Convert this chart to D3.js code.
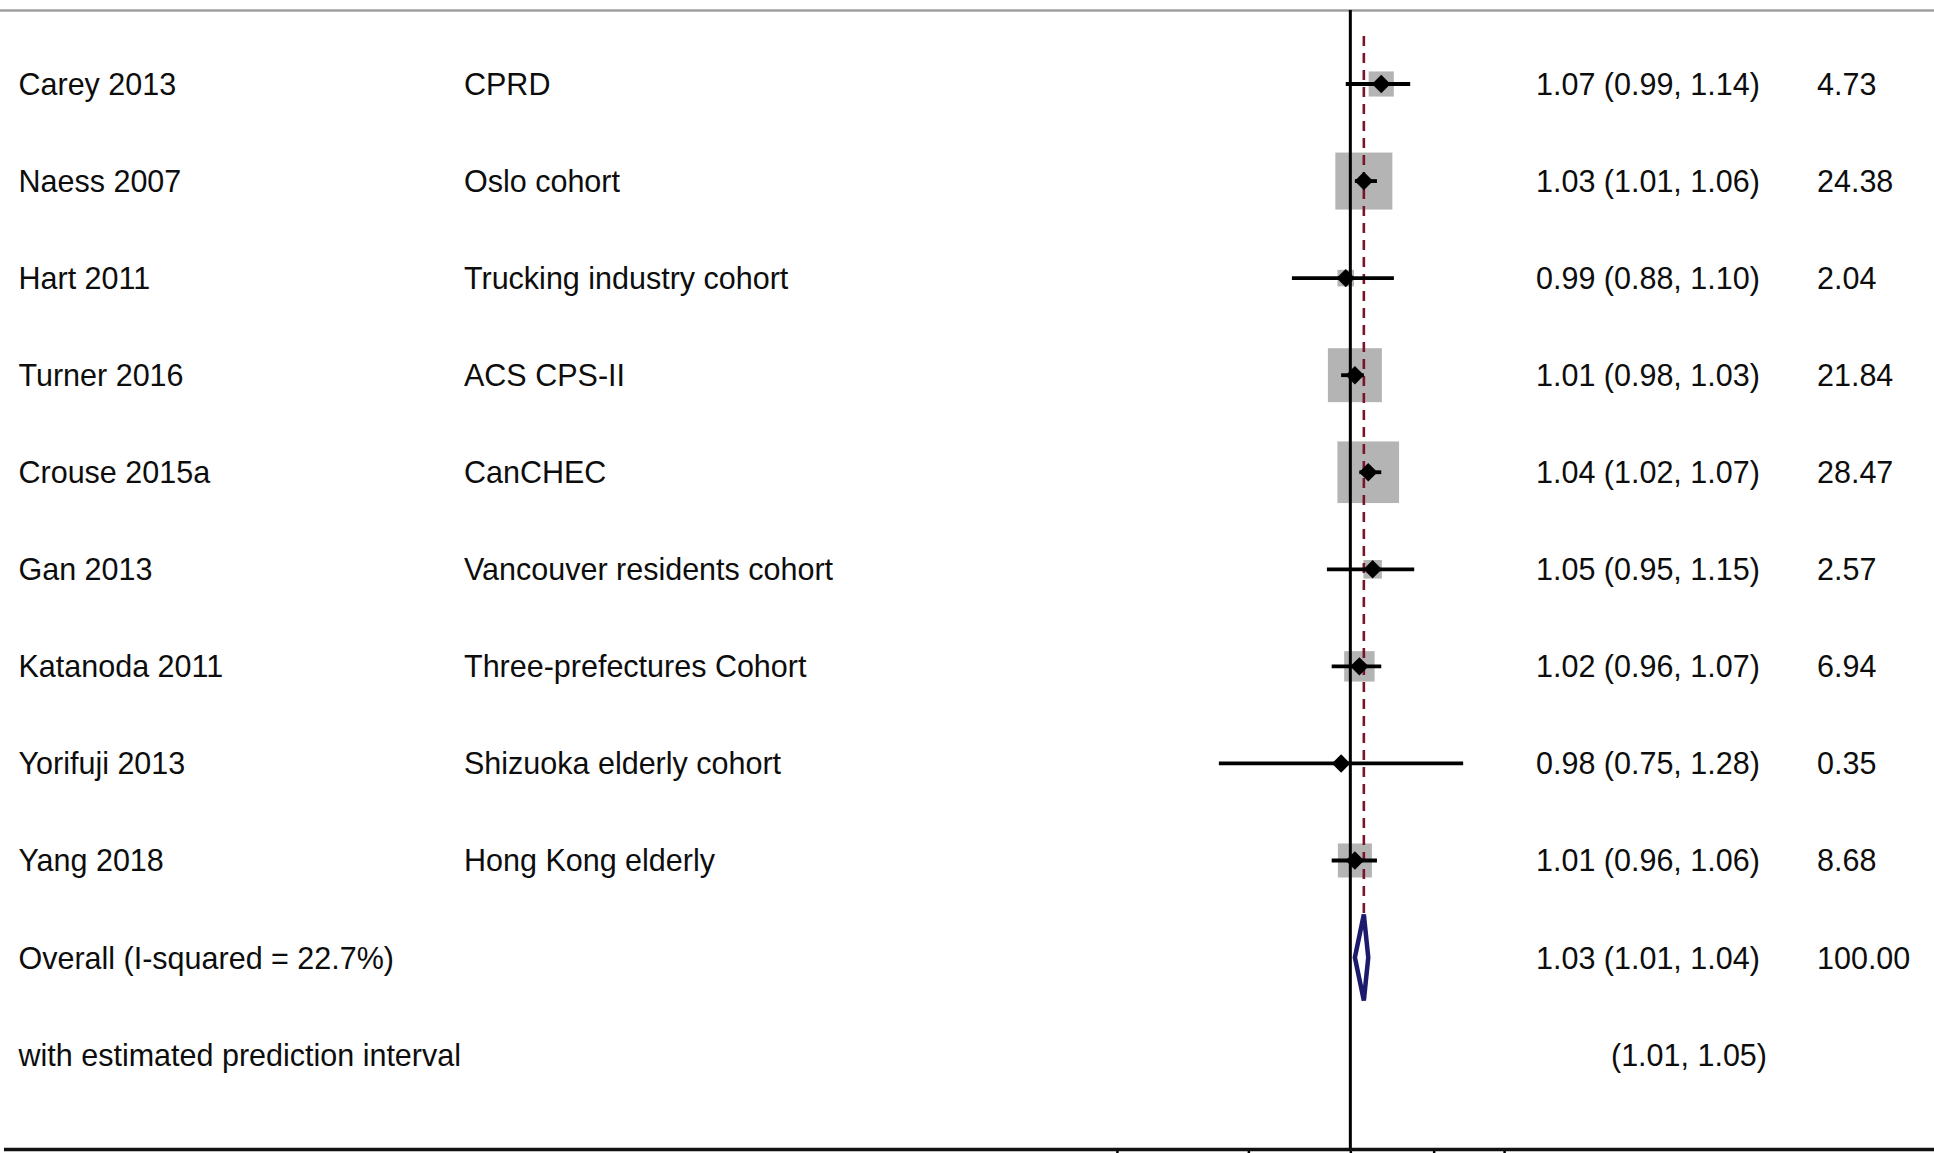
<!DOCTYPE html>
<html>
<head>
<meta charset="utf-8">
<script src="https://cdn.jsdelivr.net/npm/d3@7"></script>
<style>
  html, body { margin: 0; padding: 0; background: #fff; }
  svg { display: block; }
  text { font-family: "Liberation Sans", Arial, sans-serif; font-size: 30.5px; fill: #0d0d0d; }
</style>
</head>
<body>
<script>
// Study rows of the meta-analysis
const studies = ["Carey 2013", "Naess 2007", "Hart 2011", "Turner 2016", "Crouse 2015a",
                 "Gan 2013", "Katanoda 2011", "Yorifuji 2013", "Yang 2018"];
const cohorts = ["CPRD", "Oslo cohort", "Trucking industry cohort", "ACS CPS-II", "CanCHEC",
                 "Vancouver residents cohort", "Three-prefectures Cohort", "Shizuoka elderly cohort",
                 "Hong Kong elderly"];
const effect = [1.07, 1.03, 0.99, 1.01, 1.04, 1.05, 1.02, 0.98, 1.01];
const lower  = [0.99, 1.01, 0.88, 0.98, 1.02, 0.95, 0.96, 0.75, 0.96];
const upper  = [1.14, 1.06, 1.10, 1.03, 1.07, 1.15, 1.07, 1.28, 1.06];
const weight = [4.73, 24.38, 2.04, 21.84, 28.47, 2.57, 6.94, 0.35, 8.68];

// Pooled estimate and prediction interval
const overallEffect = 1.03, overallLower = 1.01, overallUpper = 1.04, overallWeight = 100.00;
const iSquared = 22.7;
const predLower = 1.01, predUpper = 1.05;

// Axis ticks
const tickValues = [0.6, 0.8, 1, 1.2, 1.4];

const W = 1934, H = 1153;
const svg = d3.select("body").append("svg").attr("width", W).attr("height", H);

const x = d3.scaleLog().domain([0.6, 1.4]).range([1116.9, 1504.1]);
const y = d3.scaleLinear().domain([0, 10]).range([84, 1054.6]);
const boxSide = d3.scaleSqrt().domain([0, 1]).range([0, 11.55]);
const f2 = d3.format(".2f");

const colStudy = 18.5, colCohort = 464, colES = 1536, colWeight = 1817;

// Frame line along the top
svg.append("line").attr("x1", 0).attr("x2", W).attr("y1", 10.5).attr("y2", 10.5)
  .attr("stroke", "#a0a0a0").attr("stroke-width", 2.5);

const rows = studies.map((s, i) => ({ s, c: cohorts[i], es: effect[i], lo: lower[i], hi: upper[i], w: weight[i], i }));

// Weight boxes
svg.append("g").selectAll("rect").data(rows).join("rect")
  .attr("x", d => x(d.es) - boxSide(d.w) / 2)
  .attr("y", d => y(d.i) - boxSide(d.w) / 2)
  .attr("width", d => boxSide(d.w))
  .attr("height", d => boxSide(d.w))
  .attr("fill", "#b4b4b4");

// Null line at 1
svg.append("line").attr("x1", x(1)).attr("x2", x(1)).attr("y1", 10).attr("y2", 1150)
  .attr("stroke", "#000").attr("stroke-width", 3);

// Overall effect reference line
const diamondHalf = 43;
svg.append("line").attr("x1", x(overallEffect)).attr("x2", x(overallEffect))
  .attr("y1", 36).attr("y2", y(9) - diamondHalf)
  .attr("stroke", "#7a1428").attr("stroke-width", 2.6).attr("stroke-dasharray", "10,7");

// Confidence intervals
svg.append("g").selectAll("line").data(rows).join("line")
  .attr("x1", d => x(d.lo)).attr("x2", d => x(d.hi))
  .attr("y1", d => y(d.i)).attr("y2", d => y(d.i))
  .attr("stroke", "#000").attr("stroke-width", 3.8);

// Point estimates
const pt = d3.symbol().type(d3.symbolSquare).size(170);
svg.append("g").selectAll("path").data(rows).join("path")
  .attr("d", pt)
  .attr("transform", d => `translate(${x(d.es)},${y(d.i)}) rotate(45)`)
  .attr("fill", "#000");

// Pooled diamond
const yo = y(9);
svg.append("path")
  .attr("d", d3.line()([
    [x(overallLower), yo], [x(overallEffect), yo - diamondHalf],
    [x(overallUpper), yo], [x(overallEffect), yo + diamondHalf]
  ]) + "Z")
  .attr("fill", "none").attr("stroke", "#1b1a6c").attr("stroke-width", 4.5)
  .attr("stroke-linejoin", "miter");

// Bottom axis
const axis = svg.append("g").attr("transform", "translate(0,1149.5)")
  .call(d3.axisBottom(x).tickValues(tickValues).tickFormat("").tickSize(6).tickSizeOuter(0));
axis.select(".domain").remove();
axis.selectAll(".tick line").attr("stroke", "#000").attr("stroke-width", 2.5);
svg.append("line").attr("x1", 4).attr("x2", W).attr("y1", 1149.5).attr("y2", 1149.5)
  .attr("stroke", "#111").attr("stroke-width", 3.5);

// Text columns
const txt = svg.append("g");
rows.forEach(d => {
  const yy = y(d.i);
  txt.append("text").attr("x", colStudy).attr("y", yy).attr("dy", "0.36em").text(d.s);
  txt.append("text").attr("x", colCohort).attr("y", yy).attr("dy", "0.36em").text(d.c);
  txt.append("text").attr("x", colES).attr("y", yy).attr("dy", "0.36em")
    .text(`${f2(d.es)} (${f2(d.lo)}, ${f2(d.hi)})`);
  txt.append("text").attr("x", colWeight).attr("y", yy).attr("dy", "0.36em").text(f2(d.w));
});
txt.append("text").attr("x", colStudy).attr("y", y(9)).attr("dy", "0.36em")
  .text(`Overall (I-squared = ${iSquared}%)`);
txt.append("text").attr("x", colES).attr("y", y(9)).attr("dy", "0.36em")
  .text(`${f2(overallEffect)} (${f2(overallLower)}, ${f2(overallUpper)})`);
txt.append("text").attr("x", colWeight).attr("y", y(9)).attr("dy", "0.36em").text(f2(overallWeight));
txt.append("text").attr("x", colStudy).attr("y", y(10)).attr("dy", "0.36em")
  .text("with estimated prediction interval");
txt.append("text").attr("x", 1767).attr("y", y(10)).attr("dy", "0.36em").attr("text-anchor", "end")
  .text(`(${f2(predLower)}, ${f2(predUpper)})`);
</script>
</body>
</html>
